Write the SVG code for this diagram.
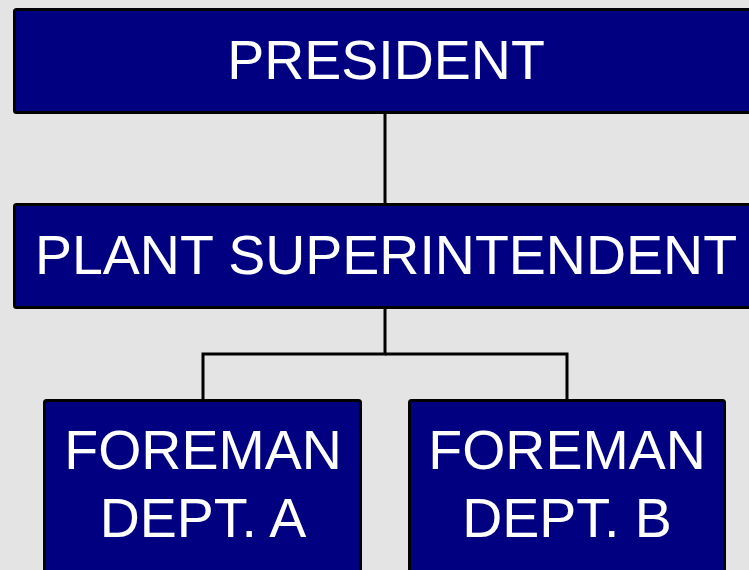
<svg xmlns="http://www.w3.org/2000/svg" width="749" height="570" viewBox="0 0 749 570">
<style>
.box{fill:#000080;stroke:#000;stroke-width:3;}
.lbl{fill:#fff;font-family:"Liberation Sans",Arial,sans-serif;font-size:55.5px;text-anchor:middle;}
.con{fill:none;stroke:#000;stroke-width:3;}
</style>
<rect width="749" height="570" fill="#e4e4e4"/>
<g id="connectors">
<line class="con" x1="385" y1="113" x2="385" y2="204"/>
<polyline class="con" points="385,308 385,354 203,354 203,400"/>
<polyline class="con" points="385,354 567,354 567,400"/>
</g>
<g id="president">
<rect class="box" x="14.5" y="9.5" width="745" height="103" rx="2"/>
<text class="lbl" x="386" y="79" font-size="56.5">PRESIDENT</text>
</g>
<g id="superintendent">
<rect class="box" x="14.5" y="204.5" width="745" height="103" rx="2"/>
<text class="lbl" x="386" y="274" font-size="56.2">PLANT SUPERINTENDENT</text>
</g>
<g id="foremanA">
<rect class="box" x="44.5" y="400.5" width="316" height="200" rx="2"/>
<text class="lbl" x="203" y="469">FOREMAN</text>
<text class="lbl" x="203" y="537">DEPT. A</text>
</g>
<g id="foremanB">
<rect class="box" x="409.5" y="400.5" width="315" height="200" rx="2"/>
<text class="lbl" x="567" y="469">FOREMAN</text>
<text class="lbl" x="567" y="537">DEPT. B</text>
</g>
</svg>
